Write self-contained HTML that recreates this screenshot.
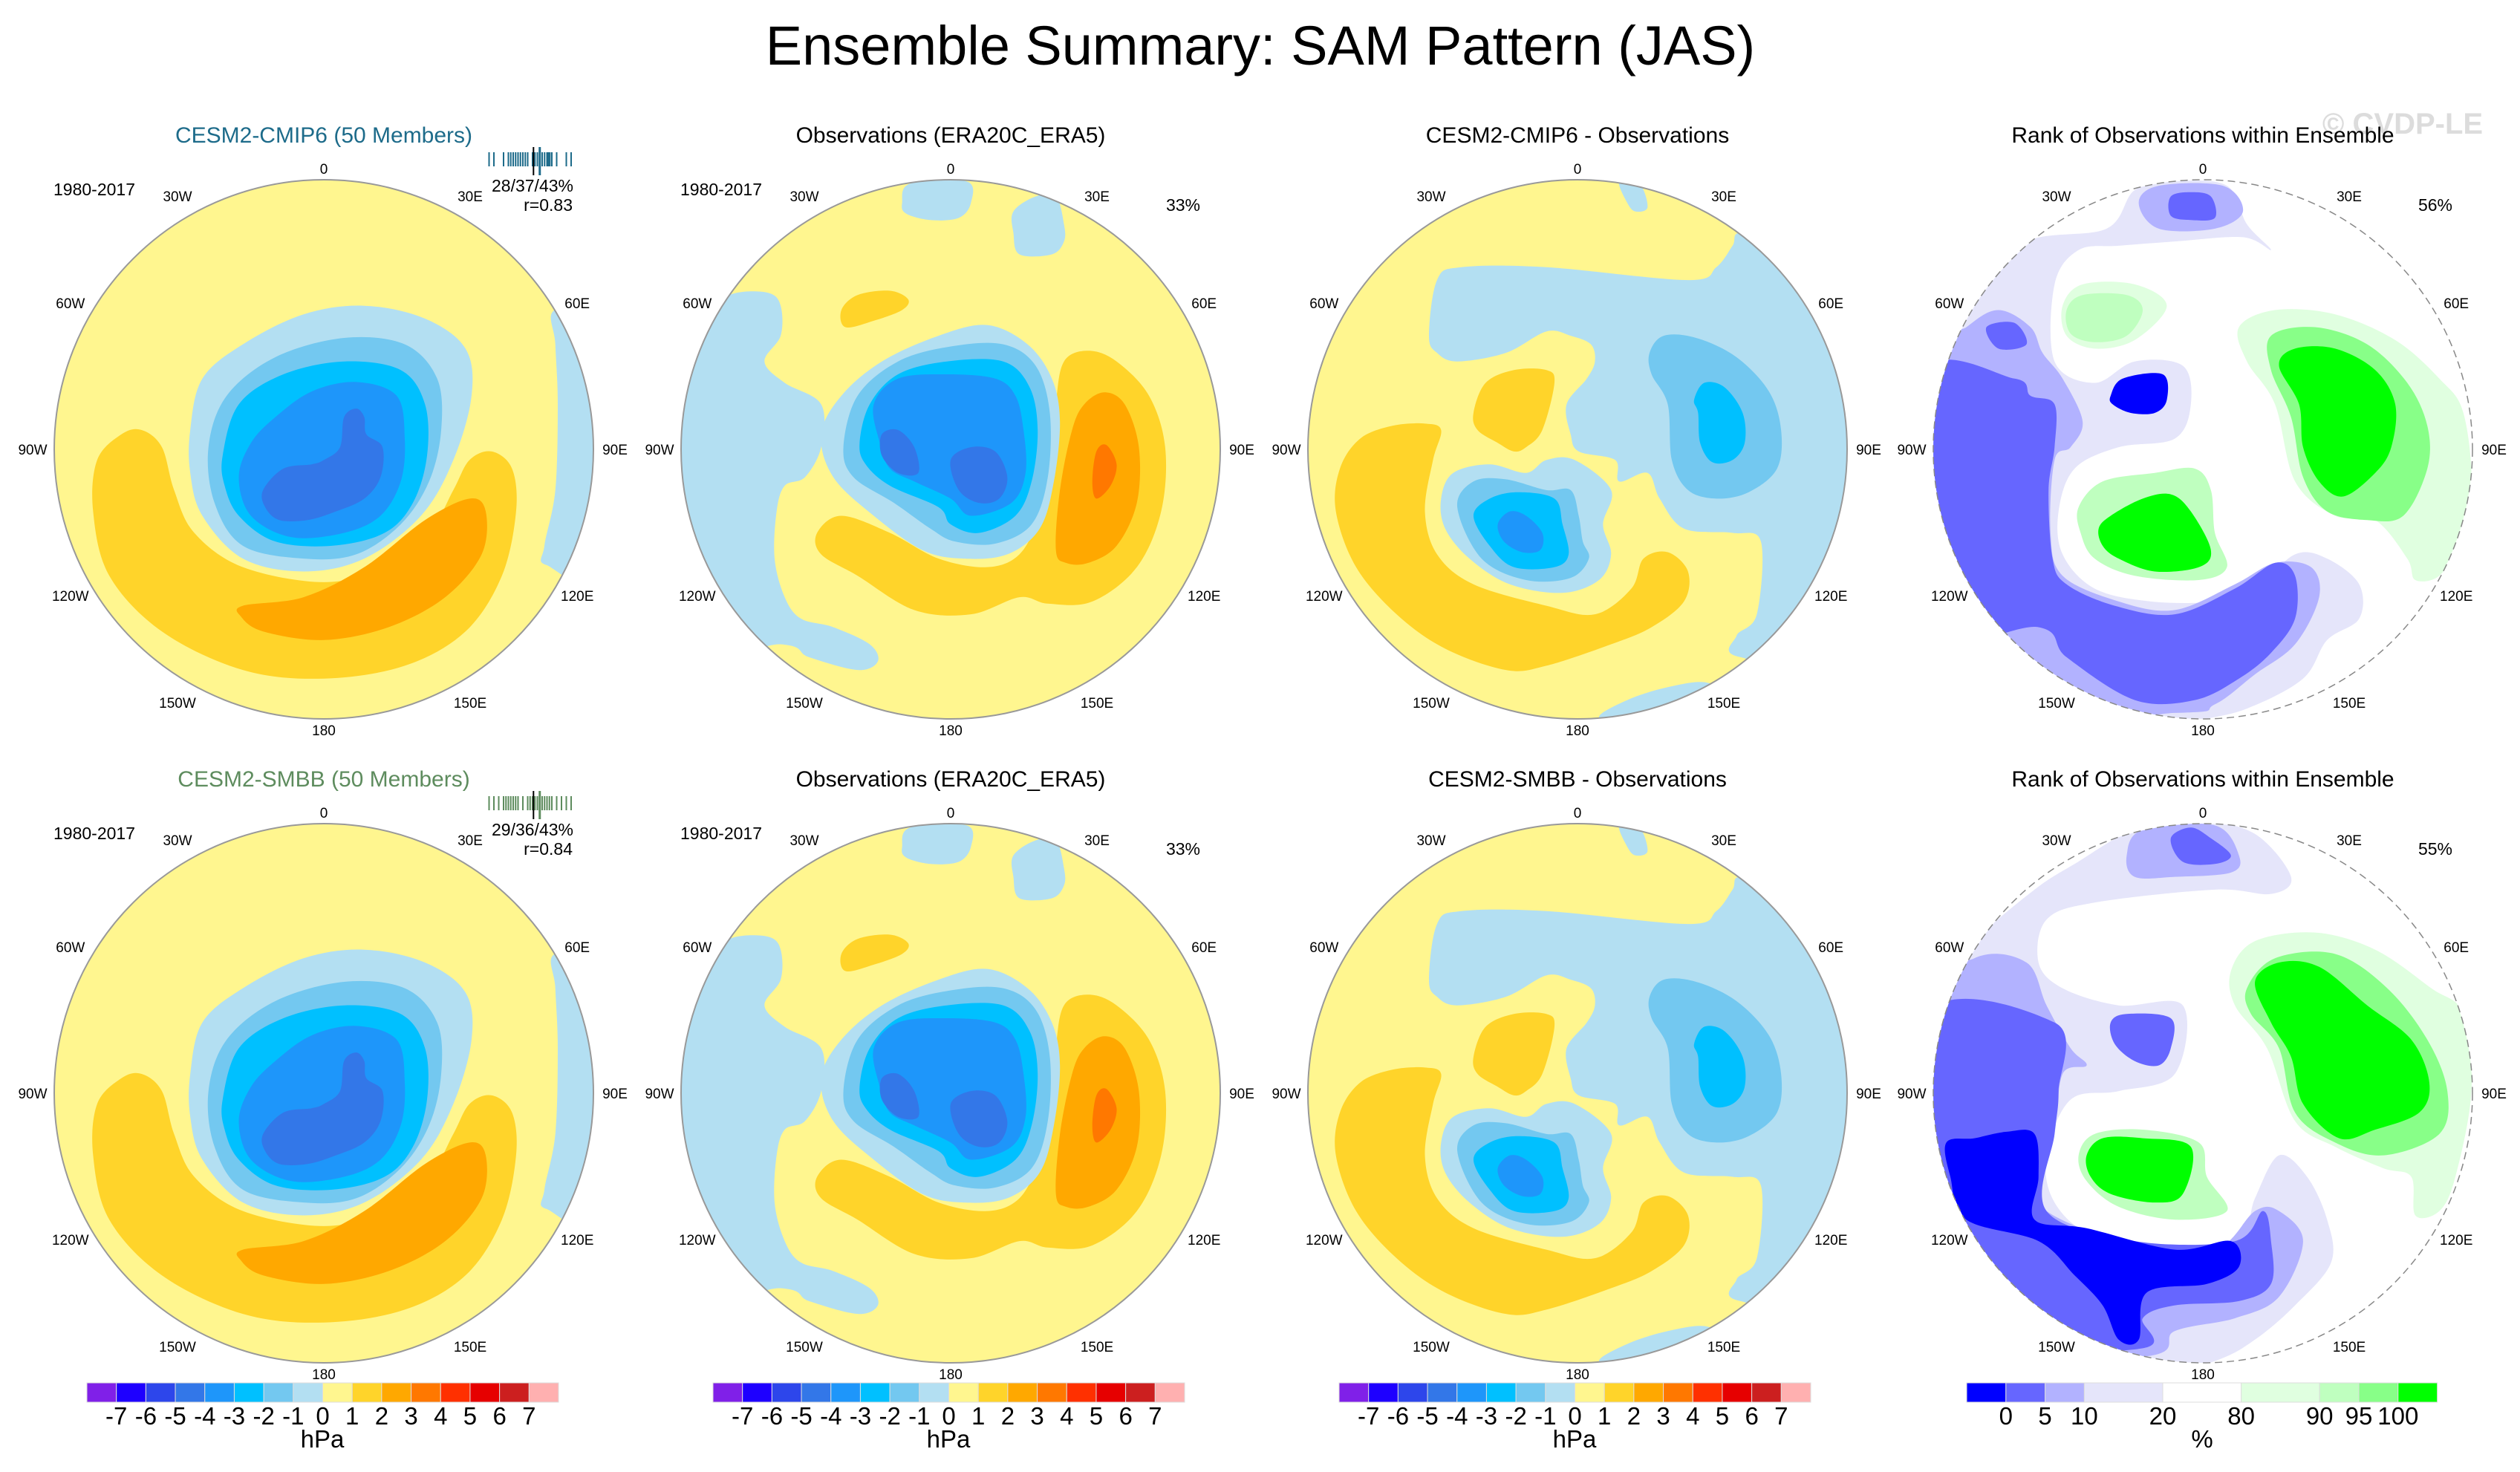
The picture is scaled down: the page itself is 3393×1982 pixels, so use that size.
<!DOCTYPE html>
<html><head><meta charset="utf-8"><style>
html,body{margin:0;padding:0;background:#fff;}
svg{display:block;font-family:"Liberation Sans",sans-serif;}
</style></head><body>
<svg id="fig" width="3393" height="1982" viewBox="0 0 3393 1982" xmlns="http://www.w3.org/2000/svg">
<text x="1697" y="87" font-size="74" text-anchor="middle">Ensemble Summary: SAM Pattern (JAS)</text>
<text x="3235" y="180" font-size="40" font-weight="bold" fill="#dcdcdc" text-anchor="middle">© CVDP-LE</text>
</svg>
<script>
// ---- data arrays ----
const hpaLevels = [-7,-6,-5,-4,-3,-2,-1,0,1,2,3,4,5,6,7];
const hpaColors = ['#8020e8','#1e00ff','#2d46eb','#3377e8','#1e96fa','#00c0ff','#73c8f0','#b3dff2','#fff68f','#ffd42a','#ffa800','#ff7800','#ff3000','#e60000','#cc1f1f','#ffb0b0'];
const rankLevels = [0,5,10,20,80,90,95,100];
const rankBounds = [-5,0,5,10,20,80,90,95,100,105];
const rankColors = ['#0000ff','#6666ff','#b2b2ff','#e5e5fa','#ffffff','#e0ffe0','#bfffbf','#88ff88','#00ff00'];
const lonLabels = ['0','30E','60E','90E','120E','150E','180','150W','120W','90W','60W','30W'];
const lonAngles = [0,30,60,90,120,150,180,210,240,270,300,330];
const memberTicks1 = [-9,-8,-6,-5,-4.5,-4,-3.5,-3,-2.5,-2,-1.5,-1,0,0.5,1,1.5,2,2.5,3,3.3,3.6,4,5,7,8];
const memberTicks2 = [-9,-8,-7,-6,-5.5,-5,-4.5,-4,-3.5,-3,-2,-1,-0.5,0,0.5,1,2,2.5,3,3.5,4,5,6,7,8];

function levelColor(v){ return hpaColors[8+v]; }

const P1 = [
 {c:-1,p:[[1370,480],[1500,480],[1500,1080],[1350,1075],[1345,1030],[1372,900],[1378,700],[1372,560]]},
 {c:1,p:[[350,760],[400,800],[430,900],[480,1000],[600,1080],[800,1115],[950,1080],[1060,1000],[1120,900],[1160,830],[1215,810],[1265,850],[1275,950],[1240,1100],[1150,1230],[1000,1310],[800,1340],[600,1320],[400,1230],[270,1100],[230,950],[240,830],[300,770]]},
 {c:2,p:[[600,1170],[750,1150],[900,1080],[1050,970],[1160,920],[1200,950],[1190,1050],[1100,1150],[960,1220],[800,1250],[650,1230],[595,1195]]},
 {c:-1,p:[[470,760],[500,640],[600,560],[750,490],[900,470],[1050,500],[1150,570],[1165,680],[1120,830],[1040,960],[900,1060],[750,1090],[600,1060],[500,960],[470,860]]},
 {c:-2,p:[[515,800],[560,680],[680,590],[850,545],[1000,560],[1080,640],[1090,760],[1060,880],[990,980],[880,1050],[750,1060],[600,1030],[530,930]]},
 {c:-3,p:[[550,820],[590,700],[700,630],[850,600],[990,620],[1050,700],[1055,820],[1020,930],[950,1000],[820,1030],[680,1020],[590,960],[555,890]]},
 {c:-4,p:[[590,870],[620,790],[680,730],[770,670],[880,648],[980,680],[1000,780],[990,880],[940,960],[850,1000],[720,1010],[620,960]]},
 {c:-5,p:[[650,900],[700,850],[770,840],[800,830],[840,800],[850,730],[880,710],[900,730],[905,770],[945,800],[940,870],[900,920],[830,950],[760,970],[690,970],[655,940]]}
];
const P2 = [
 {c:-1,p:[[60,560],[180,520],[200,470],[260,440],[340,440],[370,470],[370,540],[330,600],[380,650],[470,700],[470,800],[430,870],[380,890],[360,950],[355,1060],[380,1150],[420,1200],[500,1220],[590,1260],[610,1300],[560,1320],[440,1290],[370,1260],[60,1260]]},
 {c:-1,p:[[670,230],[690,185],[830,180],[840,230],[810,265],[740,270],[680,255]]},
 {c:-1,p:[[945,250],[1000,215],[1050,215],[1070,280],[1070,320],[1040,350],[960,350],[945,300]]},
 {c:1,p:[[520,480],[560,445],[640,435],[685,455],[670,480],[600,505],[530,520]]},
 {c:1,p:[[460,1000],[520,960],[640,1000],[760,1060],[880,1080],[960,1050],[1010,960],[1040,850],[1050,700],[1070,600],[1130,575],[1200,600],[1280,680],[1320,800],[1310,950],[1250,1080],[1140,1160],[1030,1165],[960,1150],[840,1190],[700,1180],[560,1100],[470,1050]]},
 {c:2,p:[[1050,1040],[1060,900],[1090,760],[1120,700],[1170,672],[1220,700],[1255,800],[1250,930],[1200,1030],[1130,1070],[1075,1070]]},
 {c:3,p:[[1140,880],[1150,810],[1175,795],[1200,840],[1185,890],[1150,920]]},
 {c:-1,p:[[470,770],[520,680],[620,600],[760,540],[880,515],[980,560],[1040,640],[1060,740],[1045,880],[1010,990],[930,1050],[820,1060],[720,1040],[600,960],[500,870]]},
 {c:-2,p:[[525,800],[560,680],[660,600],[790,565],[920,560],[1000,610],[1035,720],[1030,870],[990,980],[900,1025],[800,1020],[740,990],[650,930],[550,870]]},
 {c:-3,p:[[565,790],[590,700],[660,630],[780,600],[920,600],[985,660],[1005,760],[990,880],[950,960],[860,1000],[790,980],[760,940],[640,890],[580,840]]},
 {c:-4,p:[[615,790],[600,700],[660,640],[780,630],[900,640],[950,680],[970,760],[975,860],[940,930],[840,960],[790,920],[700,880],[640,850]]},
 {c:-5,p:[[620,770],[660,760],[700,800],[710,860],[660,860],[620,820]]},
 {c:-5,p:[[790,830],[840,800],[900,810],[930,870],[910,920],[860,930],[810,900]]}
];
const P3 = [
 {c:-1,p:[[410,540],[430,410],[490,380],[700,380],[1050,410],[1120,380],[1160,330],[1180,300],[1300,330],[1500,500],[1500,1300],[1180,1290],[1170,1240],[1220,1190],[1230,1020],[1160,1000],[1040,990],[980,920],[950,860],[880,880],[870,830],[780,810],[760,770],[750,700],[800,640],[820,600],[810,560],[760,540],[700,530],[600,580],[480,600],[430,580]]},
 {c:-1,p:[[880,180],[930,185],[950,240],[920,250],[900,230]]},
 {c:-1,p:[[830,1430],[900,1390],[1000,1360],[1100,1350],[1150,1400],[900,1450]]},
 {c:1,p:[[440,760],[420,830],[400,950],[430,1050],[520,1120],[700,1170],[820,1190],[910,1130],[940,1060],[1000,1045],[1050,1090],[1040,1160],[960,1220],[860,1260],[700,1310],[600,1320],[450,1270],[330,1190],[230,1080],[180,950],[190,850],[240,780],[320,750],[400,745]]},
 {c:1,p:[[520,720],[550,650],[620,620],[700,620],[720,650],[690,760],[650,800],[620,810],[580,790],[530,760]]},
 {c:-1,p:[[440,920],[470,860],[560,840],[650,860],[700,830],[770,830],[860,900],[840,980],[860,1050],[830,1110],[740,1140],[610,1120],[510,1060],[450,990]]},
 {c:-2,p:[[480,940],[520,880],[600,875],[700,900],[760,900],[780,960],[790,1020],[805,1060],[760,1105],[650,1110],[540,1060]]},
 {c:-3,p:[[520,960],[560,920],[630,905],[720,920],[740,980],[755,1050],[720,1080],[620,1080],[560,1030]]},
 {c:-4,p:[[580,980],[610,950],[650,960],[690,1000],[685,1040],[640,1045],[595,1020]]},
 {c:-2,p:[[955,580],[990,540],[1070,545],[1170,590],[1250,670],[1280,760],[1270,850],[1200,905],[1120,920],[1050,900],[1010,830],[1000,700],[960,630]]},
 {c:-3,p:[[1065,690],[1090,650],[1140,660],[1185,720],[1190,790],[1160,830],[1110,835],[1080,790],[1075,720]]}
];
const R1 = [
 {c:3,p:[[60,560],[200,440],[330,320],[530,290],[600,200],[700,180],[830,190],[880,280],[940,340],[870,310],[700,320],[560,330],[460,340],[400,420],[400,600],[500,650],[600,600],[720,610],[740,700],[700,780],[560,800],[450,850],[410,950],[420,1050],[500,1130],[640,1160],[800,1160],[900,1130],[1000,1050],[1080,1060],[1160,1120],[1160,1200],[1080,1250],[1020,1340],[880,1410],[750,1440],[600,1480],[60,1480]]},
 {c:2,p:[[60,620],[180,520],[260,480],[340,520],[370,580],[420,640],[470,740],[440,800],[400,830],[390,1000],[420,1100],[560,1160],[700,1180],[850,1120],[950,1070],[1040,1080],[1060,1150],[1000,1260],[900,1330],[800,1400],[700,1420],[60,1420]]},
 {c:2,p:[[610,230],[660,190],[820,190],[870,250],[800,290],[660,290]]},
 {c:1,p:[[60,640],[300,640],[340,680],[400,700],[400,800],[385,900],[395,1060],[430,1120],[550,1170],[700,1190],[850,1130],[950,1070],[1000,1100],[1000,1200],[940,1280],[860,1340],[750,1390],[600,1390],[430,1290],[360,1220],[60,1220]]},
 {c:1,p:[[690,215],[740,205],[790,215],[800,265],[740,270],[690,260]]},
 {c:1,p:[[230,520],[300,510],[330,560],[260,570]]},
 {c:0,p:[[540,680],[570,640],[670,630],[680,690],[650,720],[590,720],[545,700]]},
 {c:5,p:[[860,520],[950,480],[1100,490],[1250,550],[1360,640],[1420,720],[1440,900],[1400,1030],[1360,1100],[1300,1110],[1280,1060],[1200,970],[1100,960],[1000,880],[950,700],[880,600]]},
 {c:7,p:[[940,540],[1050,520],[1180,560],[1280,650],[1330,750],[1330,850],[1270,960],[1180,970],[1080,950],[1020,870],[990,730],[940,620]]},
 {c:8,p:[[960,610],[1000,570],[1100,570],[1200,620],[1250,700],[1240,800],[1200,860],[1120,915],[1060,880],[1020,800],[1010,700]]},
 {c:5,p:[[420,470],[470,420],[600,420],[680,470],[600,550],[500,570],[430,540]]},
 {c:6,p:[[430,480],[470,445],[580,445],[620,480],[580,540],[500,555],[440,535]]},
 {c:6,p:[[460,940],[520,880],[650,860],[750,850],[790,900],[800,1000],[830,1080],[760,1110],[600,1100],[500,1060],[465,1000]]},
 {c:8,p:[[510,990],[540,960],[620,920],[690,910],[740,950],[790,1040],[760,1080],[650,1090],[560,1060],[520,1030]]}
];
const R2 = [
 {c:3,p:[[60,600],[200,450],[350,330],[450,270],[600,190],[760,170],[900,200],[990,300],[940,340],[800,330],[500,360],[380,400],[360,500],[420,560],[560,600],[720,600],[700,760],[560,800],[440,820],[380,950],[400,1060],[500,1140],[700,1180],[860,1150],[900,1050],[960,950],[1030,1000],[1080,1100],[1090,1200],[1000,1300],[900,1380],[800,1430],[600,1480],[60,1480]]},
 {c:2,p:[[60,620],[200,490],[330,500],[380,600],[440,700],[480,740],[420,760],[400,900],[370,1000],[380,1080],[600,1160],[800,1170],[900,1080],[960,1080],[1020,1150],[960,1280],[850,1330],[700,1360],[620,1420],[60,1420]]},
 {c:2,p:[[580,250],[620,190],[800,180],[860,250],[840,290],[700,300],[600,300]]},
 {c:1,p:[[60,640],[400,640],[410,800],[400,900],[380,1080],[600,1150],[850,1150],[920,1080],[940,1150],[940,1250],[860,1290],[700,1300],[620,1330],[620,1400],[200,1400],[60,1300]]},
 {c:1,p:[[690,210],[740,185],[790,210],[840,250],[800,270],[720,265]]},
 {c:1,p:[[540,640],[580,620],[690,630],[690,700],[660,740],[600,730],[550,690]]},
 {c:0,p:[[130,920],[200,910],[280,895],[350,900],[360,1000],[350,1100],[480,1120],[700,1170],[840,1150],[860,1210],[780,1250],[630,1270],[610,1380],[560,1380],[520,1300],[450,1230],[360,1150],[180,1100],[140,1000]]},
 {c:5,p:[[840,520],[900,450],[1050,430],[1200,470],[1340,560],[1420,620],[1440,800],[1400,1000],[1360,1080],[1300,1090],[1290,1000],[1220,980],[1100,930],[1000,870],[930,700],[850,600]]},
 {c:7,p:[[880,560],[950,490],[1100,480],[1230,560],[1330,680],[1380,800],[1360,900],[1220,950],[1100,920],[1000,850],[960,700],[890,620]]},
 {c:8,p:[[900,545],[960,500],[1060,510],[1180,600],[1290,680],[1335,780],[1310,850],[1200,890],[1110,910],[1020,830],[990,720],[940,640]]},
 {c:6,p:[[460,950],[500,900],[620,890],[760,920],[780,1000],[830,1080],[700,1100],[560,1070],[480,1010]]},
 {c:8,p:[[480,950],[520,910],[620,910],[740,930],[720,1040],[650,1060],[540,1040],[490,1000]]}
];

const NS='http://www.w3.org/2000/svg';
const svg=document.getElementById('fig');
function mk(tag,attrs,parent){const e=document.createElementNS(NS,tag);for(const k in attrs)e.setAttribute(k,attrs[k]);(parent||svg).appendChild(e);return e;}
function smooth(pts){
 const n=pts.length;let d='M'+pts[0][0]+','+pts[0][1];
 for(let i=0;i<n;i++){const p0=pts[(i-1+n)%n],p1=pts[i],p2=pts[(i+1)%n],p3=pts[(i+2)%n];
  const c1=[p1[0]+(p2[0]-p0[0])/6,p1[1]+(p2[1]-p0[1])/6],c2=[p2[0]-(p3[0]-p1[0])/6,p2[1]-(p3[1]-p1[1])/6];
  d+='C'+c1[0].toFixed(1)+','+c1[1].toFixed(1)+' '+c2[0].toFixed(1)+','+c2[1].toFixed(1)+' '+p2[0]+','+p2[1];}
 return d+'Z';}

const SY=1.733, R=363;
const panels=[
 {cx:436,sx:1.835,zc:800,shapes:P1,rank:false},
 {cx:1280,sx:1.835,zc:790,shapes:P2,rank:false},
 {cx:2124,sx:1.835,zc:777,shapes:P3,rank:false},
 {cx:2966,sx:1.853,zc:770,shapes:R1,rank:true}
];
const rows=[{dy:0,cy:605,t:['CESM2-CMIP6 (50 Members)','Observations (ERA20C_ERA5)','CESM2-CMIP6 - Observations','Rank of Observations within Ensemble'],pct:['','33%','','56%'],stat:'28/37/43%',r:'r=0.83',tcol:'#1d6b8a',ticks:memberTicks1},
            {dy:867,cy:1472,t:['CESM2-SMBB (50 Members)','Observations (ERA20C_ERA5)','CESM2-SMBB - Observations','Rank of Observations within Ensemble'],pct:['','33%','','55%'],stat:'29/36/43%',r:'r=0.84',tcol:'#5e8c5e',ticks:memberTicks2}];
const defs=mk('defs',{});
rows.forEach((row,ri)=>{
 panels.forEach((pn,pi)=>{
  const cid='clip'+ri+pi;
  const cp=mk('clipPath',{id:cid},defs);
  mk('circle',{cx:pn.cx,cy:row.cy,r:R},cp);
  const g=mk('g',{'clip-path':'url(#'+cid+')'});
  
  
  const bg=mk('circle',{cx:pn.cx,cy:row.cy,r:R,fill:pn.rank?'#ffffff':'#fff68f'},g);
  
  
  const ty=row.cy-805/SY;
  const inner=mk('g',{transform:'translate('+(pn.cx-pn.zc/pn.sx)+','+ty+') scale('+(1/pn.sx)+','+(1/SY)+')'},g);
  const shapes=pn.rank?(ri===0?R1:R2):pn.shapes;
  shapes.forEach(s=>{
   const fill=pn.rank?rankColors[s.c]:levelColor(s.c);
   const pa=mk('path',{d:smooth(s.p),fill:fill},inner);
   
   
  });
  const ring=mk('circle',{cx:pn.cx,cy:row.cy,r:R,fill:'none',stroke:pn.rank?'#888':'#999','stroke-width':pn.rank?1.5:2,'stroke-dasharray':pn.rank?'10,6':'none'});
  
  
  const tt=mk('text',{x:pn.cx,y:192+row.dy,'font-size':30,'text-anchor':'middle',fill:pi===0?row.tcol:'#000'});
  tt.textContent=row.t[pi];
  
  
  lonLabels.forEach((lab,k)=>{
   const a=lonAngles[k]*Math.PI/180;
   const rr=(lonAngles[k]===0||lonAngles[k]===180)?378:(lonAngles[k]%90===0?392:394);
   const lx=pn.cx+rr*Math.sin(a), ly=row.cy-rr*Math.cos(a)+7;
   const t=mk('text',{x:lx.toFixed(1),y:ly.toFixed(1),'font-size':19,'text-anchor':'middle'});
   t.textContent=lab;
   
   
  });
  if(pi<2){
   const yr=mk('text',{x:pn.cx-309,y:263+row.dy,'font-size':23,'text-anchor':'middle'});
   yr.textContent='1980-2017';
   
   
  }
  if(row.pct[pi]){
   const pc=mk('text',{x:pn.cx+313,y:284+row.dy,'font-size':23,'text-anchor':'middle'});
   pc.textContent=row.pct[pi];
   
   
  }
 });
 const st=mk('text',{x:717,y:258+row.dy,'font-size':23,'text-anchor':'middle'});
 st.textContent=row.stat;
 
 
 const rv=mk('text',{x:771,y:284+row.dy,'font-size':23,'text-anchor':'end'});
 rv.textContent=row.r;
 
 
 const tx=v=>717+v*6.5;
 row.ticks.forEach(v=>{
  const l=mk('line',{x1:tx(v),x2:tx(v),y1:205+row.dy,y2:224+row.dy,stroke:row.tcol,'stroke-width':2});
  
  
 });
 const ob=mk('line',{x1:tx(0.2),x2:tx(0.2),y1:198+row.dy,y2:236+row.dy,stroke:'#000','stroke-width':2});
 
 
 const em=mk('line',{x1:tx(1.5),x2:tx(1.5),y1:198+row.dy,y2:236+row.dy,stroke:row.tcol,'stroke-width':3});
 
 
});

const hpaBars=[117,960,1803];
hpaBars.forEach((x0,bi)=>{
 const w=635/hpaColors.length;
 const g=mk('g',{});
 
 
 hpaColors.forEach((c,i)=>{
  const r=mk('rect',{x:x0+i*w,y:1862,width:w,height:26,fill:c,stroke:'#ddd','stroke-width':1},g);
  
  
 });
 hpaLevels.forEach((v,i)=>{
  const t=mk('text',{x:x0+(i+1)*w,y:1918,'font-size':33,'text-anchor':'middle'},g);
  t.textContent=String(v);
  
  
 });
 const u=mk('text',{x:x0+317,y:1949,'font-size':33,'text-anchor':'middle'},g);
 u.textContent='hPa';
 
 
});
const rx=v=>{const i=rankBounds.findIndex((b,k)=>v>=b&&v<=rankBounds[k+1]);const seg=[1,1,1,2,2,2,1,1,1];let x=2648;for(let k=0;k<i;k++)x+=seg[k]*52.8;return x+seg[i]*52.8*(v-rankBounds[i])/(rankBounds[i+1]-rankBounds[i]);};
const rg=mk('g',{});


rankColors.forEach((c,i)=>{
 const a=rx(rankBounds[i]),b=rx(rankBounds[i+1]);
 const r=mk('rect',{x:a,y:1862,width:b-a,height:26,fill:c,stroke:'#ddd','stroke-width':1},rg);
 
 
});
rankLevels.forEach(v=>{
 const t=mk('text',{x:rx(v),y:1918,'font-size':33,'text-anchor':'middle'},rg);
 t.textContent=String(v);
 
 
});
const pu=mk('text',{x:2965,y:1949,'font-size':33,'text-anchor':'middle'},rg);
pu.textContent='%';


</script>
</body></html>
